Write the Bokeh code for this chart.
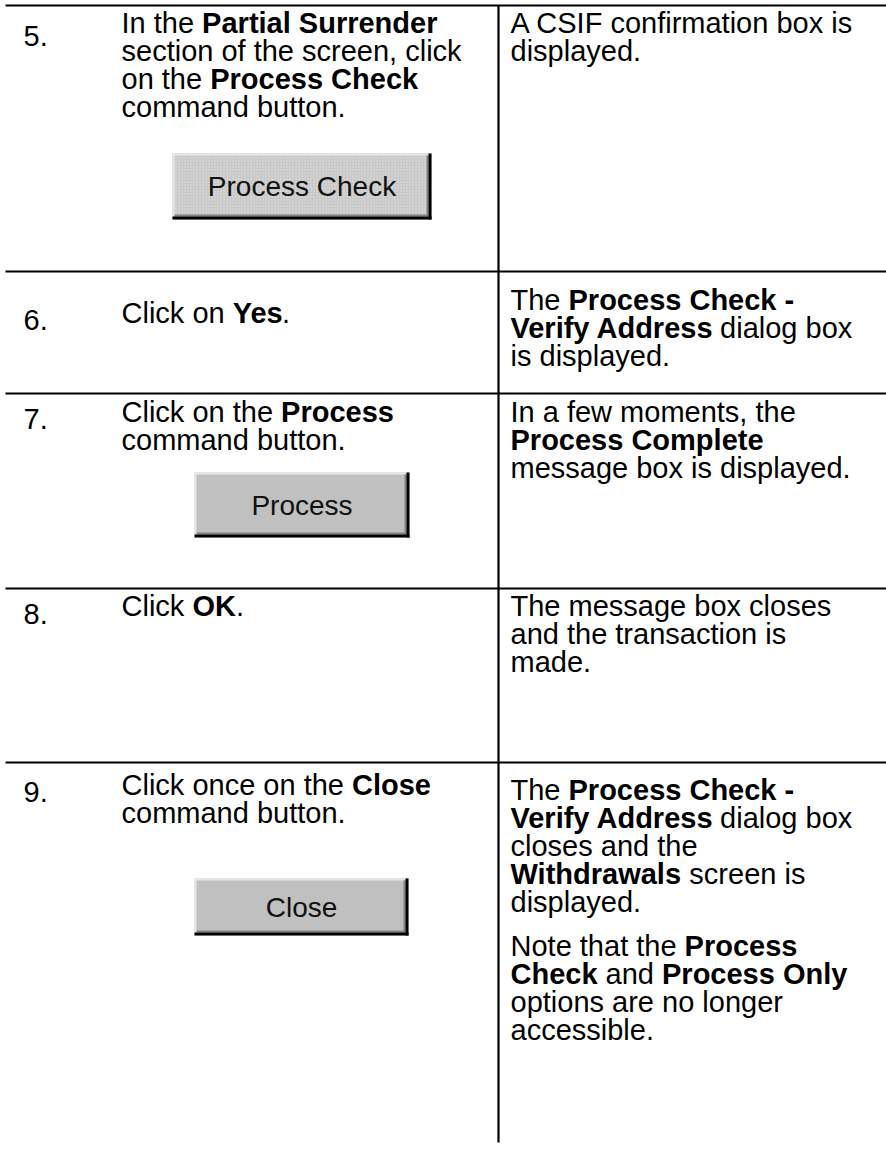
import re
from bokeh.plotting import figure
from bokeh.models import ColumnDataSource, Range1d
from bokeh.core.properties import value
from bokeh.embed import file_html
from bokeh.resources import INLINE

# ---------------- content ----------------
step_numbers = ["5.", "6.", "7.", "8.", "9."]

action_lines = [
    ["In the **Partial Surrender**", "section of the screen, click",
     "on the **Process Check**", "command button."],
    ["Click on **Yes**."],
    ["Click on the **Process**", "command button."],
    ["Click **OK**."],
    ["Click once on the **Close**", "command button."],
]

button_labels = ["Process Check", "", "Process", "", "Close"]

result_lines = [
    ["A CSIF confirmation box is", "displayed."],
    ["The **Process Check -**", "**Verify Address** dialog box", "is displayed."],
    ["In a few moments, the", "**Process Complete**", "message box is displayed."],
    ["The message box closes", "and the transaction is", "made."],
    ["The **Process Check -**", "**Verify Address** dialog box", "closes and the",
     "**Withdrawals** screen is", "displayed.", "",
     "Note that the **Process**", "**Check** and **Process Only**",
     "options are no longer", "accessible."],
]

# ---------------- layout (page pixel coordinates) ----------------
PAGE_W, PAGE_H = 886, 1152
FONT = "Liberation Sans"
FS = 29
LS = 28          # line spacing
PG = 16          # extra gap for an empty line (paragraph)
row_tops = [5, 271, 393, 588, 762]
rule_x = (5, 886)
div_x, div_bottom = 498, 1142
num_x, act_x, res_x = 23, 121, 510
num_base = [35, 319, 418, 613, 791]
act_base = [22, 312, 411, 605, 784]
res_base = [22, 299, 411, 605, 789]
btn_rects = [(172, 431, 153, 219), None, (194, 409, 472, 537), None, (194, 408, 878, 935)]
BTN_FS = 28

# ---------------- Arial / Helvetica advance widths ----------------
U = "ABCDEFGHIJKLMNOPQRSTUVWXYZ"
L = "abcdefghijklmnopqrstuvwxyz"
reg_u = [667,667,722,722,667,611,778,722,278,500,667,556,833,722,778,667,778,722,667,611,722,667,944,667,667,611]
reg_l = [556,556,500,556,556,278,556,556,222,222,500,222,833,556,556,556,556,333,500,278,556,500,722,500,500,500]
bld_u = [722,722,722,722,667,611,778,722,278,556,722,611,833,722,778,667,778,722,667,611,722,667,944,667,667,611]
bld_l = [556,611,556,611,556,333,611,611,278,278,556,278,889,611,611,611,611,389,556,333,611,556,778,556,556,500]
common = {" ": 278, ",": 278, ".": 278, "-": 333}
for d in "0123456789":
    common[d] = 556
REG = dict(common, **dict(zip(U, reg_u)), **dict(zip(L, reg_l)))
BLD = dict(common, **dict(zip(U, bld_u)), **dict(zip(L, bld_l)))
KERN_B = {"Ve": -55, " A": -55, "Ye": -80}
KERN_R = {}


def tw(s, bold, size):
    t = BLD if bold else REG
    k = KERN_B if bold else KERN_R
    w = sum(t.get(c, 556) for c in s)
    w += sum(k.get(s[j:j + 2], 0) for j in range(len(s) - 1))
    return w * size / 1000.0


norm = dict(x=[], y=[], text=[])
bold = dict(x=[], y=[], text=[])


def put_line(line, x, y):
    parts = re.split(r"(\*\*.*?\*\*)", line)
    for part in parts:
        if not part:
            continue
        b = part.startswith("**")
        s = part[2:-2] if b else part
        stripped = s.lstrip(" ")
        x += tw(s[: len(s) - len(stripped)], b, FS)
        if stripped.strip():
            d = bold if b else norm
            d["x"].append(x)
            d["y"].append(y)
            d["text"].append(stripped.rstrip(" "))
        x += tw(stripped, b, FS)


def put_block(lines, x, y0):
    y = y0
    for ln in lines:
        if ln == "":
            y += PG
            continue
        put_line(ln, x, y)
        y += LS


for i in range(len(step_numbers)):
    put_line(step_numbers[i], num_x, num_base[i])
    put_block(action_lines[i], act_x, act_base[i])
    put_block(result_lines[i], res_x, res_base[i])

# ---------------- figure ----------------
p = figure(width=PAGE_W, height=PAGE_H, output_backend="svg", toolbar_location=None,
           x_range=Range1d(0, PAGE_W), y_range=Range1d(PAGE_H, 0),
           min_border=0, x_axis_location=None, y_axis_location=None,
           background_fill_color="white", border_fill_color="white")
p.outline_line_color = None
p.grid.visible = False

# table rules
p.segment(x0=[rule_x[0]] * len(row_tops), x1=[rule_x[1]] * len(row_tops),
          y0=row_tops, y1=row_tops, line_color="black", line_width=2.2)
p.segment(x0=[div_x], x1=[div_x], y0=[row_tops[0]], y1=[div_bottom],
          line_color="black", line_width=2.2)

# buttons
bl, br, bt, bb, blab, bcx, bcy = [], [], [], [], [], [], []
for i, r in enumerate(btn_rects):
    if r is None:
        continue
    x0, x1, y0, y1 = r
    bl.append(x0); br.append(x1); bt.append(y0); bb.append(y1)
    blab.append(button_labels[i]); bcx.append((x0 + x1) / 2); bcy.append((y0 + y1) / 2)

bsrc = ColumnDataSource(dict(left=bl, right=br, top=bt, bottom=bb))
p.quad(left="left", right="right", top="top", bottom="bottom", source=bsrc,
       fill_color="#c0c0c0", line_color=None)
# textured face for the first button
tsrc = ColumnDataSource(dict(left=[bl[0]], right=[br[0]], top=[bt[0]], bottom=[bb[0]]))
p.quad(left="left", right="right", top="top", bottom="bottom", source=tsrc,
       fill_color="#c8c8c8", line_color=None, hatch_pattern="dot",
       hatch_color="#e2e2e2", hatch_scale=3, hatch_weight=1)

# light top / left edges
p.segment(x0=bl, x1=br, y0=[t + 1 for t in bt], y1=[t + 1 for t in bt], line_color="#e8e8e8", line_width=2)
p.segment(x0=[l + 1 for l in bl], x1=[l + 1 for l in bl], y0=bt, y1=bb, line_color="#e8e8e8", line_width=2)
# inner dark gray bottom / right
p.segment(x0=[l + 2 for l in bl], x1=[r - 3 for r in br], y0=[b - 4 for b in bb], y1=[b - 4 for b in bb],
          line_color="#808080", line_width=2)
p.segment(x0=[r - 4 for r in br], x1=[r - 4 for r in br], y0=[t + 2 for t in bt], y1=[b - 3 for b in bb],
          line_color="#808080", line_width=2)
# black outer bottom / right
p.segment(x0=bl, x1=br, y0=[b - 1.5 for b in bb], y1=[b - 1.5 for b in bb], line_color="black", line_width=3)
p.segment(x0=[r - 1.5 for r in br], x1=[r - 1.5 for r in br], y0=bt, y1=bb, line_color="black", line_width=3)

p.text(x=bcx, y=bcy, text=blab, text_font=value(FONT), text_font_size=f"{BTN_FS}px",
       text_align="center", text_baseline="middle", text_color="#111111")

# body text
p.text(x="x", y="y", text="text", source=ColumnDataSource(norm), text_font=value(FONT),
       text_font_size=f"{FS}px", text_baseline="alphabetic", text_align="left", text_color="black")
p.text(x="x", y="y", text="text", source=ColumnDataSource(bold), text_font=value(FONT),
       text_font_size=f"{FS}px", text_font_style="bold", text_baseline="alphabetic",
       text_align="left", text_color="black")

open("out.html", "w").write(file_html(p, INLINE))
